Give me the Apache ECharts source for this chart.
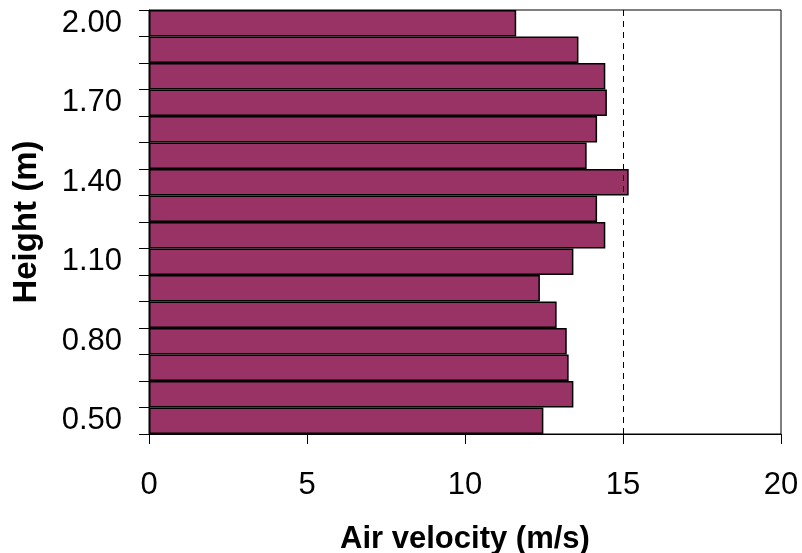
<!DOCTYPE html>
<html>
<head>
<meta charset="utf-8">
<script src="https://cdn.jsdelivr.net/npm/echarts@6/dist/echarts.min.js"></script>
<style>
  html, body { margin: 0; padding: 0; background: #fff; }
  #chart { width: 802px; height: 553px; }
</style>
</head>
<body>
<div id="chart"></div>
<script>
// Measuring heights (m), bottom to top
const heights = ['0.50', '0.60', '0.70', '0.80', '0.90', '1.00', '1.10', '1.20',
                 '1.30', '1.40', '1.50', '1.60', '1.70', '1.80', '1.90', '2.00'];
// Air velocity at each height (m/s)
const velocity = [12.48, 13.43, 13.28, 13.22, 12.90, 12.37, 13.43, 14.44,
                  14.18, 15.18, 13.85, 14.18, 14.49, 14.44, 13.59, 11.62];
// Reference velocity line
const referenceVelocity = 15;
const xTicks = [0, 5, 10, 15, 20];

const chart = echarts.init(document.getElementById('chart'), null, { renderer: 'canvas' });
const font = 'Liberation Sans, Arial, Helvetica, sans-serif';

chart.setOption({
  animation: false,
  backgroundColor: '#ffffff',
  grid: {
    left: 149, right: 21, top: 10, bottom: 119,
    outerBoundsMode: 'none',
    containLabel: false,
    show: true, borderColor: '#000', borderWidth: 1, backgroundColor: 'transparent'
  },
  xAxis: {
    type: 'value',
    min: xTicks[0], max: xTicks[xTicks.length - 1], interval: 5,
    name: 'Air velocity (m/s)',
    nameLocation: 'middle',
    nameGap: 90,
    nameTextStyle: { fontFamily: font, fontSize: 31, fontWeight: 'bold', color: '#000' },
    axisLine: { show: true, lineStyle: { color: '#000', width: 1 } },
    axisTick: { show: true, length: 10, lineStyle: { color: '#000' } },
    axisLabel: { margin: 36, fontFamily: font, fontSize: 31, color: '#000' },
    splitLine: { show: false }
  },
  yAxis: {
    type: 'category',
    data: heights,
    boundaryGap: true,
    name: 'Height (m)',
    nameLocation: 'middle',
    nameRotate: 90,
    nameGap: 106,
    nameTextStyle: { fontFamily: font, fontSize: 33, fontWeight: 'bold', color: '#000' },
    axisLine: { show: true, lineStyle: { color: '#000', width: 1 } },
    axisTick: { show: true, interval: 0, length: 10, alignWithLabel: false, lineStyle: { color: '#000' } },
    axisLabel: { interval: 2, margin: 27, fontFamily: font, fontSize: 31, color: '#000' }
  },
  series: [{
    type: 'bar',
    data: velocity,
    barCategoryGap: '0%',
    itemStyle: { color: '#993366', borderColor: '#000', borderWidth: 1.5 },
    markLine: {
      silent: true,
      symbol: 'none',
      label: { show: false },
      lineStyle: { color: '#000', type: [6, 5], width: 1 },
      data: [{ xAxis: referenceVelocity }]
    }
  }]
});
</script>
</body>
</html>
